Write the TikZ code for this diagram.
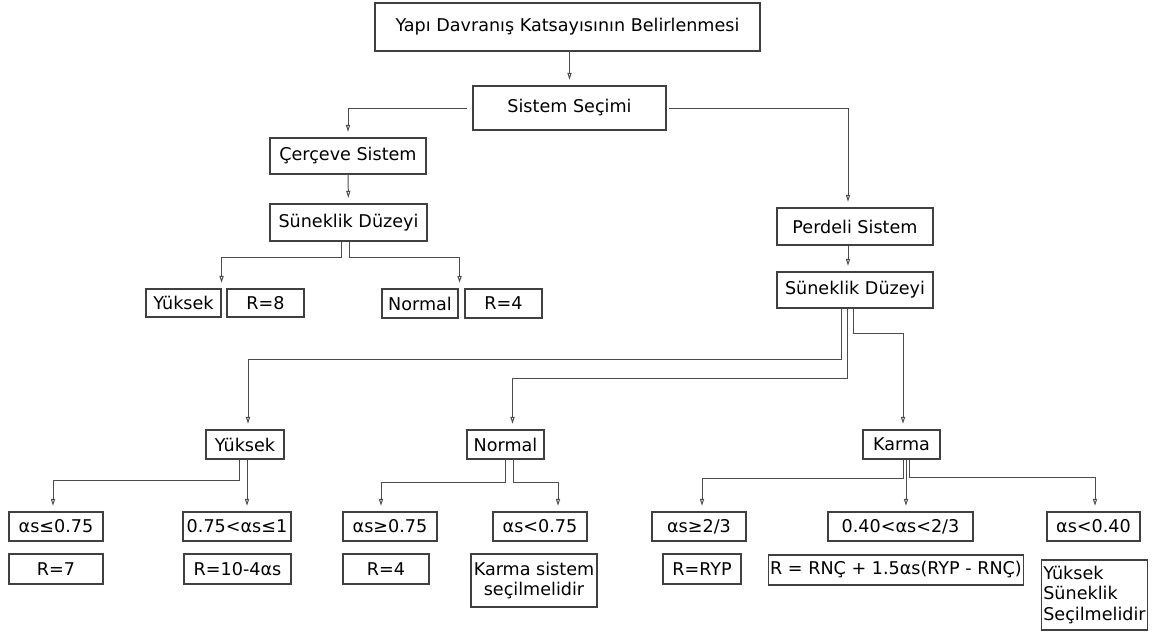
\documentclass[tikz,border=0pt]{standalone}
\usepackage{fontspec}
\setmainfont{DejaVu Sans}
\usepackage{tikz}
\usetikzlibrary{arrows.meta, positioning, calc}
\tikzset{
  blk/.style={rectangle, draw=black!75, line width=0.8pt, inner sep=1pt,
              align=center, font=\fontsize{12.5}{14.5}\selectfont},
  sz/.style 2 args={minimum width=#1*0.025cm, minimum height=#2*0.025cm},
  arr/.style={draw=black!70, line width=0.7pt,
              -{Triangle[open, length=5pt, width=3pt]}, shorten >=4pt},
}

\begin{document}
\begin{tikzpicture}[x=0.025cm, y=-0.025cm]
  \useasboundingbox (0,0) rectangle (1160,636);
  % upper part
  \node[blk, sz={385}{48}] (top) at (567.5,27) {Yapı Davranış Katsayısının Belirlenmesi};
  \node[blk, sz={193}{44}] (sys) at (569.5,108) {Sistem Seçimi};
  \node[blk, sz={156}{36}] (cerc) at (348,156) {Çerçeve Sistem};
  \node[blk, sz={157}{37}] (sun1) at (348.5,222.5) {Süneklik Düzeyi};
  \node[blk, sz={75}{28}] (yuk1) at (183.5,303) {Yüksek};
  \node[blk, sz={77}{28}] (r8) at (265.5,303) {R=8};
  \node[blk, sz={76}{29}] (nor1) at (420,303.5) {Normal};
  \node[blk, sz={77}{29}] (r4a) at (503.5,303.5) {R=4};
  \node[blk, sz={156}{37}] (perd) at (855,226.5) {Perdeli Sistem};
  \node[blk, sz={156}{36}] (sun2) at (855,290) {Süneklik Düzeyi};
  % middle level
  \node[blk, sz={78}{29}] (yuk2) at (245,444.5) {Yüksek};
  \node[blk, sz={77}{29}] (nor2) at (505.5,444.5) {Normal};
  \node[blk, sz={77}{29}] (kar) at (901.5,444.5) {Karma};
  % conditions
  \node[blk, sz={94}{29}] (a1) at (56,526.5) {αs≤0.75};
  \node[blk, sz={108}{29}] (a2) at (237,526.5) {0.75<αs≤1};
  \node[blk, sz={94}{29}] (a3) at (390,526.5) {αs≥0.75};
  \node[blk, sz={94}{29}] (a4) at (540,526.5) {αs<0.75};
  \node[blk, sz={94}{29}] (a5) at (699,526.5) {αs≥2/3};
  \node[blk, sz={145}{29}] (a6) at (900.5,526.5) {0.40<αs<2/3};
  \node[blk, sz={93}{29}] (a7) at (1093.5,526.5) {αs<0.40};
  % results
  \node[blk, sz={94}{30}] (r7) at (56,569) {R=7};
  \node[blk, sz={107}{30}] (r10) at (237.5,569) {R=10-4αs};
  \node[blk, sz={86}{30}] (r4b) at (386,569) {R=4};
  \node[blk, sz={126}{53}] (ksec) at (534,580.5) {Karma sistem\\seçilmelidir};
  \node[blk, sz={78}{30}] (ryp) at (702,569) {R=RYP};
  \node[blk, sz={248}{30}] (rnc) at (896,570) {R = RNÇ + 1.5αs(RYP - RNÇ)};
  \node[blk, sz={105}{70}, align=left] (yss) at (1094.5,595) {Yüksek\\Süneklik\\Seçilmelidir};

  % connectors
  \draw[arr] (sys.north |- top.south) -- (sys.north);
  \draw[arr, shorten <=4pt] (sys.west) -| (cerc.north);
  \draw[arr, shorten <=2pt] (sys.east) -| ($(perd.north)+(-7,0)$);
  \draw[arr] (cerc.south) -- (sun1.north);
  \draw[arr] ($(sun1.south)+(-7,0)$) -- ++(0,16) -| (yuk1.north east);
  \draw[arr] ($(sun1.south)+(1,0)$) -- ++(0,16) -| ($(nor1.north east)+(1,0)$);
  \draw[arr] ($(perd.south)+(-7,0)$) -- ($(sun2.north)+(-7,0)$);
  \draw[arr] ($(sun2.south)+(-14,0)$) -- ++(0,51) -| ($(yuk2.north)+(3,0)$);
  \draw[arr] ($(sun2.south)+(-8,0)$) -- ++(0,70) -| ($(nor2.north)+(7,0)$);
  \draw[arr] ($(sun2.south)+(-2,0)$) -- ++(0,25) -| ($(kar.north)+(1.5,0)$);
  \draw[arr] ($(yuk2.south)+(-6,0)$) -- ++(0,21) -| ($(a1.north)+(-3,0)$);
  \draw[arr] ($(yuk2.south)+(2,0)$) coordinate (yb) -- (yb |- a2.north);
  \draw[arr] (nor2.south) -- ++(0,23) -| ($(a3.north)+(-9,0)$);
  \draw[arr] ($(nor2.south)+(8,0)$) -- ++(0,23) -| ($(a4.north)+(18,0)$);
  \draw[arr] ($(kar.south)+(1.5,0)$) -- ++(0,19) -| ($(a5.north)+(3,0)$);
  \draw[arr] ($(kar.south)+(4.5,0)$) coordinate (kb) -- (kb |- a6.north);
  \draw[arr] ($(kar.south)+(7.5,0)$) -- ++(0,18) -| ($(a7.north)+(1.5,0)$);
\end{tikzpicture}
\end{document}
